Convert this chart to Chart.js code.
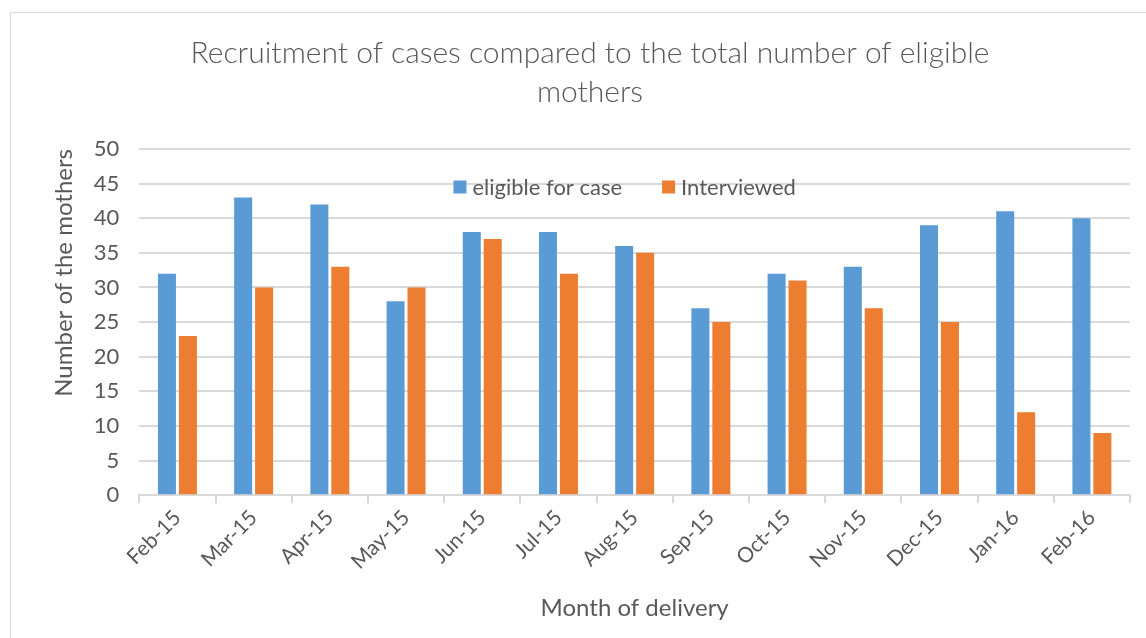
<!DOCTYPE html>
<html>
<head>
<meta charset="utf-8">
<script src="https://cdn.jsdelivr.net/npm/chart.js@4"></script>
<style>
    html, body { margin: 0; padding: 0; background: #fff; overflow: hidden; }
    #frame { position: absolute; left: 10px; top: 12px; width: 2000px; height: 2000px; border: 1px solid #d9d9d9; }
    #wrap { position: absolute; left: 0; top: 0; width: 1146px; height: 638px; }
</style>
</head>
<body>
<div id="frame"></div>
<div id="wrap"><canvas id="chart"></canvas></div>
<script>
const months = ["Feb-15", "Mar-15", "Apr-15", "May-15", "Jun-15", "Jul-15", "Aug-15",
    "Sep-15", "Oct-15", "Nov-15", "Dec-15", "Jan-16", "Feb-16"];
const eligible = [32, 43, 42, 28, 38, 38, 36, 27, 32, 33, 39, 41, 40];
const interviewed = [23, 30, 33, 30, 37, 32, 35, 25, 31, 27, 25, 12, 9];

const textColor = "#595959";
const gridColor = "#d9d9d9";
const fontFamily = "Lato, 'Open Sans', sans-serif";

// legend drawn inside the plot area, near the top, like the original
const innerLegend = {
    id: "innerLegend",
    afterDraw(chart) {
        const c = chart.ctx;
        const area = chart.chartArea;
        const fontSize = 22;
        const box = 13;
        const gap = 6;
        const spacing = 40;
        c.save();
        c.font = fontSize + "px " + fontFamily;
        const items = chart.data.datasets.map(ds => ({
            text: ds.label,
            color: ds.backgroundColor,
            w: box + gap + c.measureText(ds.label).width,
        }));
        const total = items.reduce((s, it) => s + it.w, 0) + spacing * (items.length - 1);
        let x = (area.left + area.right) / 2 - 10 - total / 2;
        const y = area.top + 38;
        c.textBaseline = "middle";
        for (const it of items) {
            c.fillStyle = it.color;
            c.fillRect(x, y - box / 2, box, box);
            c.fillStyle = textColor;
            c.fillText(it.text, x + box + gap, y + 1);
            x += it.w + spacing;
        }
        c.restore();
    },
};

const ctx = document.getElementById("chart").getContext("2d");

let myChart = new Chart(ctx, {
    type: "bar",
    data: {
        labels: months,
        datasets: [{
            label: "eligible for case",
            data: eligible,
            backgroundColor: "#5B9BD5",
            categoryPercentage: 0.55,
            barPercentage: 0.86,
        }, {
            label: "Interviewed",
            data: interviewed,
            backgroundColor: "#ED7D31",
            categoryPercentage: 0.55,
            barPercentage: 0.86,
        }],
    },
    options: {
        responsive: true,
        maintainAspectRatio: false,
        animation: false,
        layout: {
            padding: { left: 50, right: 16, top: 34, bottom: 15 },
        },
        plugins: {
            title: {
                display: true,
                text: ["Recruitment of cases compared to the total number of eligible", "mothers"],
                color: textColor,
                font: { family: fontFamily, size: 30, weight: "300", lineHeight: 1.3 },
                padding: { top: 0, bottom: 37 },
            },
            legend: { display: false },
            tooltip: { enabled: false },
        },
        scales: {
            x: {
                grid: {
                    offset: true,
                    drawOnChartArea: false,
                    color: gridColor,
                    tickLength: 8,
                    lineWidth: 2,
                },
                border: { color: gridColor, width: 2 },
                ticks: {
                    color: textColor,
                    font: { family: fontFamily, size: 21 },
                    minRotation: 45,
                    maxRotation: 45,
                    padding: 2,
                },
                title: {
                    display: true,
                    text: "Month of delivery",
                    color: textColor,
                    font: { family: fontFamily, size: 24 },
                    padding: { top: 18, bottom: 0 },
                },
            },
            y: {
                min: 0,
                max: 50,
                ticks: {
                    stepSize: 5,
                    color: textColor,
                    font: { family: fontFamily, size: 22 },
                    padding: 20,
                },
                grid: {
                    color: gridColor,
                    lineWidth: 2,
                    drawTicks: false,
                },
                border: { display: false },
                title: {
                    display: true,
                    text: "Number of the mothers",
                    align: "end",
                    color: textColor,
                    font: { family: fontFamily, size: 24 },
                    padding: { top: 0, bottom: -5 },
                },
            },
        },
    },
    plugins: [innerLegend],
});
</script>
</body>
</html>
